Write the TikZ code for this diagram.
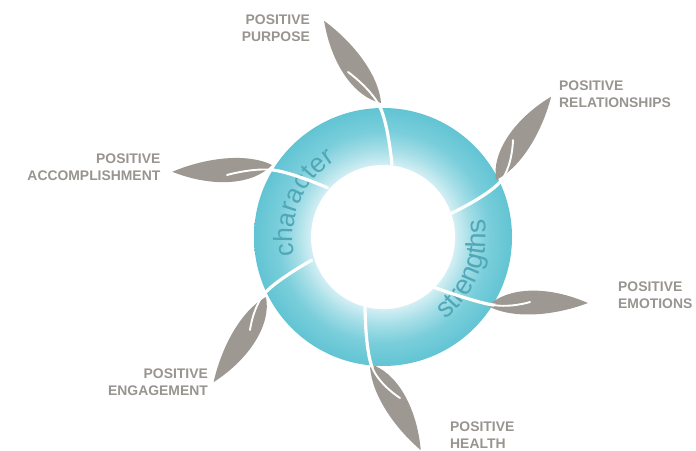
\documentclass[tikz,border=0pt]{standalone}
\usepackage{fontspec}
\setmainfont{Liberation Sans}
\usetikzlibrary{decorations.text,calc}
\definecolor{leafgrey}{RGB}{157,152,146}
\definecolor{labelgrey}{RGB}{152,148,143}
\definecolor{ringtext}{RGB}{78,168,184}
\definecolor{ringA}{RGB}{212,239,244}
\definecolor{ringB}{RGB}{165,222,231}
\definecolor{ringC}{RGB}{122,206,219}
\definecolor{ringD}{RGB}{98,196,211}
\pgfdeclareradialshading{ringshade}{\pgfpoint{0bp}{0bp}}{color(0bp)=(white); color(13.7bp)=(white); color(13.9bp)=(ringA); color(17bp)=(ringB); color(20.5bp)=(ringC); color(25bp)=(ringD); color(50bp)=(ringD)}
\newcommand\ringfontA{\fontsize{26.5}{30}\selectfont}
\newcommand\ringfontB{\fontsize{27.5}{30}\selectfont}
\newcommand\leafat[2]{\fill[leafgrey, shift={(#1)}, rotate=#2] (0,0) .. controls (20,18.5) and (60,19) .. (100,0) .. controls (62,-13) and (22,-13) .. cycle;}
\tikzset{
  lbl/.style={font=\fontsize{13.9}{17}\selectfont\bfseries, text=labelgrey, inner sep=0pt},
  cutthick/.style={draw=white, line width=3.2pt},
  cutthin/.style={draw=white, line width=1.9pt, line cap=round},
}
\begin{document}
\begin{tikzpicture}[x=1pt,y=1pt]
\useasboundingbox (0,0) rectangle (696,450);
\coordinate (c) at (383,213);
% ring
\shade[shading=ringshade] (c) circle[radius=129pt];
\fill[white] (c) circle[radius=72pt];
% ring texts
\path[decorate, decoration={text along path, text={|\ringfontA|character}, text align=center, text color=ringtext}]
  ([shift={(c)}]205:90pt) arc[start angle=205, end angle=109, radius=90pt];
\path[decorate, decoration={text along path, text={|\ringfontB|strengths}, text align=center, text color=ringtext}]
  ([shift={(c)}]-72:103pt) arc[start angle=-72, end angle=29, radius=103pt];
% cut points
\coordinate (ia) at (392,285); \coordinate (oa) at (380,343); \coordinate (ma) at (348,378);
\coordinate (ib) at (448,235); \coordinate (ob) at (500,268); \coordinate (mb) at (513,310);
\coordinate (ic) at (433,163); \coordinate (oc) at (493,145); \coordinate (mc) at (530,148);
\coordinate (id) at (365,143); \coordinate (od) at (372,83);  \coordinate (md) at (400,52);
\coordinate (ie) at (312,190); \coordinate (oe) at (265,157); \coordinate (me) at (250,120);
\coordinate (if) at (328,262); \coordinate (of) at (273,280); \coordinate (mf) at (227,275);
% leaves
\coordinate (ba) at (381,347); \coordinate (bb) at (496,270); \coordinate (bc) at (488,144);
\coordinate (bd) at (370,86);  \coordinate (be) at (266,153); \coordinate (bf) at (272,285);
\leafat{ba}{124.7}
\leafat{bb}{56.5}
\leafat{bc}{1.7}
\leafat{bd}{-59.5}
\leafat{be}{238.4}
\leafat{bf}{183.9}
% cuts
\begin{scope}
\clip (c) circle[radius=131pt];
\foreach \k in {a,b,c,d,e,f}
  \draw[cutthick] plot[smooth, tension=0.7] coordinates {(i\k) (o\k) (m\k)};
\end{scope}
\foreach \k in {a,b,c,d,e,f}
  \draw[cutthin] plot[smooth, tension=0.7] coordinates {(i\k) (o\k) (m\k)};
% labels
\node[lbl, align=right, anchor=east] (purpose) at (310,422.25) {POSITIVE\\PURPOSE};
\node[lbl, align=left, anchor=west] (relations) at (559,355.5) {POSITIVE\\RELATIONSHIPS};
\node[lbl, align=right, anchor=east] (accomp) at (160.5,282.7) {POSITIVE\\ACCOMPLISHMENT};
\node[lbl, align=left, anchor=west] (emotions) at (618,155) {POSITIVE\\EMOTIONS};
\node[lbl, align=right, anchor=east] (engage) at (208,68) {POSITIVE\\ENGAGEMENT};
\node[lbl, align=left, anchor=west] (health) at (450,15) {POSITIVE\\HEALTH};
\end{tikzpicture}
\end{document}
